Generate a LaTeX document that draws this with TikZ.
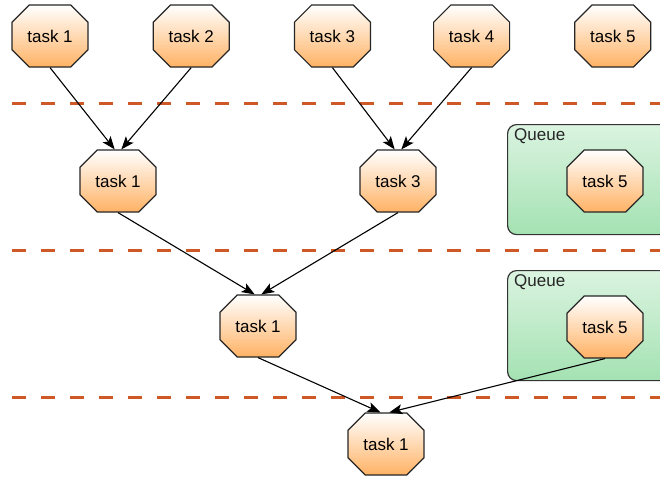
\documentclass[tikz,border=0pt]{standalone}
\usepackage{fontspec}
\setmainfont{Liberation Sans}
\usepackage{xcolor}
\usetikzlibrary{positioning,arrows.meta,shapes.misc}
\definecolor{taskorange}{RGB}{255,178,100}
\definecolor{queuegreen}{RGB}{164,226,178}
\definecolor{sepred}{RGB}{206,88,38}
\tikzset{
  >={Stealth[length=13pt,width=10pt,inset=3pt]},
  task/.style={
    chamfered rectangle,
    chamfered rectangle xsep=11pt,
    chamfered rectangle ysep=11pt,
    draw=black!85, line width=1.2pt,
    top color=white, bottom color=taskorange,
    minimum width=76pt, minimum height=62pt,
    inner sep=0pt,
    font=\fontsize{17}{20}\selectfont,
    text centered},
  queue/.style={
    rectangle, rounded corners=9pt,
    draw=black!80, line width=1.2pt,
    top color=queuegreen!40, bottom color=queuegreen,
    minimum width=175pt, minimum height=110pt,
    anchor=north west},
  queuelabel/.style={
    anchor=north west, inner xsep=7pt, inner ysep=4pt,
    text=black!85, font=\fontsize{17}{20}\selectfont},
  sepline/.style={draw=sepred, line width=3pt, dash pattern=on 14pt off 15pt},
  myarrow/.style={draw, ->, line width=1.1pt},
}
\begin{document}
\begin{tikzpicture}[x=1pt, y=-1pt, node distance=64pt]
      \clip (0,0) rectangle (660,479);

      % separators between the stages
      \path[sepline] (12,103) -- (660,103);
      \path[sepline] (12,250) -- (660,250);
      \path[sepline] (12,397) -- (660,397);

      % queues
      \node[queue] (QueueBox01) at (507,124) {};
      \node[queuelabel] (QueueLabel01) at (QueueBox01.north west) {Queue};
      \node[queue] (QueueBox02) at (507,270) {};
      \node[queuelabel] (QueueLabel02) at (QueueBox02.north west) {Queue};

      % first row
      \node[task] (item11) at (50,36) {task 1};
      \node[task, right=of item11] (item12) {task 2};
      \node[task, right=of item12] (item13) {task 3};
      \node[task, right=62pt of item13] (item14) {task 4};
      \node[task, right=of item14] (item15) {task 5};

      % second row
      \node[task] (item21) at (118,181) {task 1};
      \node[task] (item23) at (398,181) {task 3};
      \node[task] (item25) at (605,181) {task 5};

      % third row
      \node[task] (item31) at (258,326) {task 1};
      \node[task] (item35) at (605,327) {task 5};

      % last row
      \node[task] (item41) at (386,444) {task 1};

      \path[myarrow] (item11.south) -- (item21.96);
      \path[myarrow] (item12.south) -- (item21.84);
      \path[myarrow] (item13.south) -- (item23.96);
      \path[myarrow] (item14.south) -- (item23.84);
      \path[myarrow] (item21.south) -- (item31.96);
      \path[myarrow] (item23.south) -- (item31.84);
      \path[myarrow] (item31.south) -- (item41.100);
      \path[myarrow] (item35.south) -- (item41.84);

      \end{tikzpicture}
\end{document}
